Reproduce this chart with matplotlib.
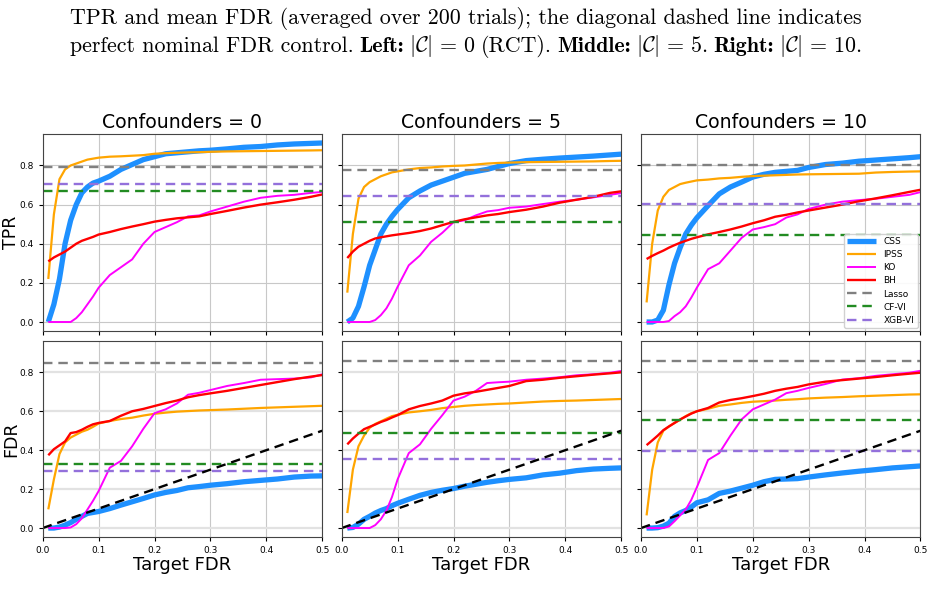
import numpy as np
import matplotlib
matplotlib.use("Agg")
import matplotlib.pyplot as plt

# ---------------- data ----------------
target_fdr = [0.01, 0.02, 0.03, 0.04, 0.05, 0.06, 0.07, 0.08, 0.09, 0.10,
              0.12, 0.14, 0.16, 0.18, 0.20, 0.22, 0.24, 0.26, 0.28, 0.30,
              0.33, 0.36, 0.39, 0.42, 0.45, 0.48, 0.50]
confounders = [0, 5, 10]
methods = ["CSS", "IPSS", "KO", "BH"]
baselines = ["Lasso", "CF-VI", "XGB-VI"]
diag_x = [0.0, 0.5]
diag_y = [0.0, 0.5]

# TPR, confounders = 0
tpr0_css = [0.0, 0.09, 0.22, 0.40, 0.52, 0.60, 0.66, 0.69, 0.71, 0.72, 0.745, 0.78, 0.805, 0.83, 0.845, 0.86, 0.865, 0.87, 0.875, 0.878, 0.885, 0.893, 0.897, 0.905, 0.91, 0.913, 0.915]
tpr0_ipss = [0.22, 0.55, 0.73, 0.78, 0.80, 0.81, 0.82, 0.83, 0.835, 0.84, 0.845, 0.847, 0.85, 0.853, 0.86, 0.863, 0.865, 0.867, 0.868, 0.87, 0.872, 0.873, 0.874, 0.875, 0.876, 0.877, 0.878]
tpr0_ko = [0.0, 0.0, 0.0, 0.0, 0.0, 0.02, 0.05, 0.09, 0.13, 0.175, 0.24, 0.28, 0.32, 0.40, 0.46, 0.485, 0.51, 0.54, 0.545, 0.565, 0.59, 0.615, 0.635, 0.645, 0.65, 0.66, 0.665]
tpr0_bh = [0.31, 0.33, 0.345, 0.36, 0.38, 0.40, 0.415, 0.425, 0.435, 0.447, 0.46, 0.475, 0.488, 0.50, 0.513, 0.522, 0.53, 0.535, 0.54, 0.552, 0.568, 0.585, 0.60, 0.612, 0.625, 0.64, 0.652]
# TPR, confounders = 5
tpr5_css = [0.0, 0.02, 0.08, 0.18, 0.29, 0.37, 0.45, 0.50, 0.54, 0.575, 0.635, 0.67, 0.70, 0.72, 0.74, 0.76, 0.77, 0.78, 0.795, 0.81, 0.825, 0.832, 0.838, 0.843, 0.848, 0.854, 0.858]
tpr5_ipss = [0.15, 0.45, 0.63, 0.69, 0.715, 0.73, 0.745, 0.755, 0.765, 0.77, 0.78, 0.787, 0.79, 0.795, 0.798, 0.80, 0.805, 0.81, 0.813, 0.815, 0.817, 0.818, 0.819, 0.82, 0.821, 0.823, 0.824]
tpr5_ko = [0.0, 0.0, 0.0, 0.0, 0.0, 0.01, 0.035, 0.07, 0.12, 0.18, 0.29, 0.34, 0.41, 0.456, 0.51, 0.52, 0.545, 0.565, 0.572, 0.584, 0.59, 0.603, 0.615, 0.625, 0.637, 0.65, 0.659]
tpr5_bh = [0.327, 0.36, 0.385, 0.40, 0.415, 0.427, 0.433, 0.438, 0.443, 0.447, 0.455, 0.465, 0.478, 0.495, 0.512, 0.525, 0.535, 0.545, 0.552, 0.562, 0.574, 0.59, 0.61, 0.625, 0.64, 0.66, 0.668]
# TPR, confounders = 10
tpr10_css = [0.0, 0.0, 0.01, 0.06, 0.19, 0.30, 0.38, 0.45, 0.495, 0.533, 0.595, 0.655, 0.69, 0.715, 0.741, 0.755, 0.765, 0.77, 0.775, 0.79, 0.805, 0.812, 0.822, 0.828, 0.834, 0.84, 0.845]
tpr10_ipss = [0.10, 0.40, 0.57, 0.64, 0.675, 0.69, 0.705, 0.712, 0.718, 0.724, 0.728, 0.734, 0.737, 0.742, 0.746, 0.748, 0.75, 0.752, 0.754, 0.755, 0.756, 0.757, 0.758, 0.764, 0.767, 0.769, 0.77]
tpr10_ko = [0.0, 0.0, 0.0, 0.0, 0.005, 0.03, 0.05, 0.08, 0.125, 0.176, 0.27, 0.30, 0.365, 0.43, 0.473, 0.485, 0.50, 0.534, 0.55, 0.578, 0.60, 0.615, 0.623, 0.63, 0.64, 0.65, 0.664]
tpr10_bh = [0.322, 0.338, 0.352, 0.365, 0.38, 0.393, 0.405, 0.415, 0.425, 0.433, 0.448, 0.46, 0.473, 0.488, 0.505, 0.52, 0.538, 0.548, 0.56, 0.57, 0.585, 0.60, 0.617, 0.632, 0.648, 0.665, 0.676]

# FDR, confounders = 0
fdr0_css = [0.0, 0.0, 0.005, 0.015, 0.028, 0.045, 0.06, 0.075, 0.08, 0.085, 0.10, 0.118, 0.135, 0.152, 0.17, 0.183, 0.193, 0.207, 0.213, 0.22, 0.228, 0.238, 0.245, 0.252, 0.262, 0.267, 0.268]
fdr0_ipss = [0.096, 0.25, 0.38, 0.44, 0.465, 0.48, 0.495, 0.505, 0.52, 0.537, 0.55, 0.56, 0.567, 0.578, 0.587, 0.593, 0.598, 0.601, 0.604, 0.606, 0.609, 0.613, 0.617, 0.62, 0.623, 0.626, 0.628]
fdr0_ko = [0.0, 0.0, 0.0, 0.0, 0.003, 0.02, 0.05, 0.095, 0.14, 0.19, 0.31, 0.345, 0.42, 0.51, 0.59, 0.61, 0.64, 0.685, 0.695, 0.709, 0.73, 0.745, 0.762, 0.765, 0.768, 0.774, 0.79]
fdr0_bh = [0.374, 0.405, 0.425, 0.445, 0.488, 0.493, 0.505, 0.52, 0.533, 0.54, 0.55, 0.577, 0.60, 0.612, 0.627, 0.642, 0.655, 0.672, 0.683, 0.692, 0.705, 0.72, 0.735, 0.75, 0.765, 0.778, 0.786]
# FDR, confounders = 5
fdr5_css = [0.0, 0.003, 0.02, 0.045, 0.06, 0.077, 0.09, 0.10, 0.115, 0.127, 0.148, 0.168, 0.183, 0.194, 0.203, 0.215, 0.225, 0.235, 0.243, 0.25, 0.258, 0.273, 0.282, 0.295, 0.303, 0.307, 0.309]
fdr5_ipss = [0.077, 0.30, 0.42, 0.475, 0.515, 0.535, 0.548, 0.562, 0.575, 0.582, 0.594, 0.60, 0.607, 0.616, 0.622, 0.628, 0.632, 0.635, 0.638, 0.64, 0.645, 0.65, 0.653, 0.655, 0.658, 0.661, 0.663]
fdr5_ko = [0.0, 0.0, 0.0, 0.0, 0.0, 0.015, 0.045, 0.09, 0.16, 0.25, 0.385, 0.43, 0.51, 0.58, 0.655, 0.675, 0.705, 0.745, 0.749, 0.752, 0.762, 0.768, 0.775, 0.785, 0.79, 0.798, 0.807]
fdr5_bh = [0.43, 0.46, 0.485, 0.508, 0.52, 0.532, 0.545, 0.555, 0.568, 0.58, 0.61, 0.627, 0.64, 0.655, 0.68, 0.692, 0.70, 0.71, 0.72, 0.73, 0.755, 0.762, 0.772, 0.78, 0.788, 0.795, 0.80]
# FDR, confounders = 10
fdr10_css = [0.0, 0.0, 0.002, 0.01, 0.025, 0.06, 0.078, 0.09, 0.108, 0.13, 0.145, 0.178, 0.19, 0.205, 0.22, 0.238, 0.25, 0.252, 0.254, 0.262, 0.273, 0.283, 0.292, 0.30, 0.309, 0.315, 0.319]
fdr10_ipss = [0.065, 0.30, 0.44, 0.50, 0.522, 0.54, 0.556, 0.575, 0.59, 0.60, 0.613, 0.628, 0.635, 0.643, 0.649, 0.652, 0.655, 0.659, 0.662, 0.666, 0.67, 0.673, 0.677, 0.68, 0.683, 0.686, 0.687]
fdr10_ko = [0.0, 0.0, 0.0, 0.0, 0.008, 0.035, 0.065, 0.095, 0.145, 0.21, 0.35, 0.385, 0.475, 0.558, 0.61, 0.635, 0.66, 0.693, 0.705, 0.72, 0.74, 0.763, 0.77, 0.782, 0.79, 0.798, 0.808]
fdr10_bh = [0.426, 0.45, 0.475, 0.503, 0.522, 0.54, 0.558, 0.573, 0.588, 0.60, 0.617, 0.645, 0.658, 0.667, 0.678, 0.69, 0.705, 0.716, 0.725, 0.738, 0.752, 0.76, 0.768, 0.776, 0.785, 0.793, 0.798]

# Baselines (Lasso, CF-VI, XGB-VI)
tpr_baselines = [[0.79, 0.671, 0.705], [0.776, 0.512, 0.644], [0.80, 0.445, 0.604]]
fdr_baselines = [[0.85, 0.33, 0.295], [0.86, 0.489, 0.357], [0.86, 0.555, 0.397]]

tpr_data = [[tpr0_css, tpr0_ipss, tpr0_ko, tpr0_bh],
            [tpr5_css, tpr5_ipss, tpr5_ko, tpr5_bh],
            [tpr10_css, tpr10_ipss, tpr10_ko, tpr10_bh]]
fdr_data = [[fdr0_css, fdr0_ipss, fdr0_ko, fdr0_bh],
            [fdr5_css, fdr5_ipss, fdr5_ko, fdr5_bh],
            [fdr10_css, fdr10_ipss, fdr10_ko, fdr10_bh]]

caption_line1 = "TPR and mean FDR (averaged over 200 trials); the diagonal dashed line indicates"
caption_line2 = [("perfect nominal FDR control.", "cmr10"), ("Left:", "cmb10"),
                 (r"$|\mathcal{C}|\,=\,0$", "cmr10"), ("(RCT).", "cmr10"),
                 ("Middle:", "cmb10"), (r"$|\mathcal{C}|\,=\,5.$", "cmr10"),
                 ("Right:", "cmb10"), (r"$|\mathcal{C}|\,=\,10.$", "cmr10")]

# ---------------- style ----------------
method_colors = ["#1E90FF", "#FFA500", "#FF00FF", "#FF0000"]
method_lw = [3.8, 1.6, 1.4, 1.7]
base_colors = ["#808080", "#228B22", "#9370DB"]

plt.rcParams['mathtext.fontset'] = 'cm'
plt.rcParams['axes.unicode_minus'] = False

W, H = 932, 604
fig = plt.figure(figsize=(W / 100, H / 100), dpi=100)

lefts = [42.7, 341.7, 641.0]
aw = 279.5
rows = [(134, 331), (341, 537)]

axes = [[None] * 3 for _ in range(2)]
ref = None
for r, (ytop, ybot) in enumerate(rows):
    for c in range(3):
        rect = [lefts[c] / W, 1 - ybot / H, aw / W, (ybot - ytop) / H]
        ax = fig.add_axes(rect, sharey=ref) if ref is not None else fig.add_axes(rect)
        if ref is None:
            ref = ax
        axes[r][c] = ax

for c in range(3):
    for r in range(2):
        ax = axes[r][c]
        data = tpr_data[c] if r == 0 else fdr_data[c]
        base = tpr_baselines[c] if r == 0 else fdr_baselines[c]
        ax.set_axisbelow(True)
        if r == 0:
            ax.grid(True, color="#c8c8c8", linewidth=0.8)
        else:
            ax.grid(True, axis="x", color="#c8c8c8", linewidth=0.8)
            ax.grid(True, axis="y", color="#e2e2e2", linewidth=1.6)
        for name, yv, col, lw in zip(methods, data, method_colors, method_lw):
            ax.plot(target_fdr, yv, color=col, linewidth=lw, label=name, solid_capstyle='butt')
        for name, val, col in zip(baselines, base, base_colors):
            ax.axhline(val, color=col, linestyle=(0, (4, 2.5)), linewidth=1.7, label=name)
        if r == 1:
            ax.plot(diag_x, diag_y, color="black", linestyle=(0, (4, 2.5)), linewidth=1.7)
        ax.set_xlim(0, 0.5)
        ax.set_xticks([0.0, 0.1, 0.2, 0.3, 0.4, 0.5])
        ax.tick_params(labelsize=6.5, length=3, width=0.8)
        for sp in ax.spines.values():
            sp.set_color("#444444")
        if c > 0:
            ax.tick_params(labelleft=False)
        if r == 0:
            ax.tick_params(labelbottom=False)
            ax.set_title(f"Confounders = {confounders[c]}", fontsize=13.6, pad=4)
        else:
            ax.set_xlabel("Target FDR", fontsize=13, labelpad=1)
            ax.set_xticklabels(["0.0", "0.1", "0.2", "0.3", "0.4", "0.5"])

for r, lab in enumerate(["TPR", "FDR"]):
    axes[r][0].set_ylabel(lab, fontsize=12.5)
    axes[r][0].yaxis.set_label_coords((20 - 42.7) / aw, 0.5)

ref.set_ylim(-0.046, 0.961)
ref.set_yticks([0.0, 0.2, 0.4, 0.6, 0.8])

axes[0][2].legend(loc="lower right", fontsize=6.5, framealpha=0.9,
                  handlelength=3.2, borderaxespad=0.3, labelspacing=0.45)

# caption text (paper excerpt)
cap_fs = 15.8
fig.text(70 / W, 1 - 19 / H, caption_line1, family="cmr10", fontsize=cap_fs,
         va="center", ha="left")

renderer = fig.canvas.get_renderer()
space_px = 5.2
x_px = 70.0
for txt, fam in caption_line2:
    t = fig.text(x_px / W, 1 - 52 / H, txt, family=fam, fontsize=cap_fs,
                 va="baseline", ha="left")
    bb = t.get_window_extent(renderer=renderer)
    x_px = bb.x1 + space_px

fig.savefig("out.png", dpi=100)
